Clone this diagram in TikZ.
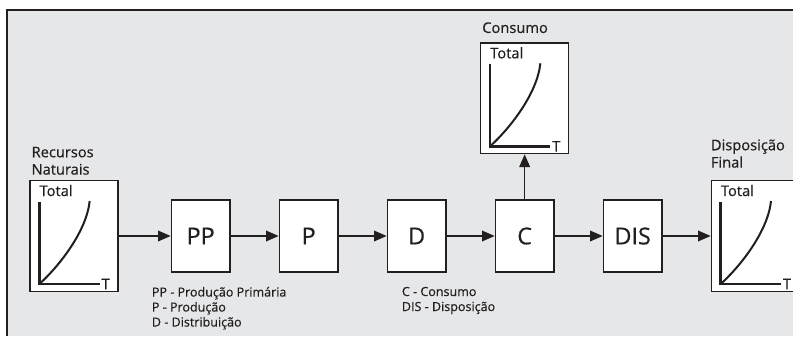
\documentclass[tikz,border=0pt]{standalone}
\usepackage{fontspec}
\setmainfont{Open Sans}[FakeBold=0.5]
\usetikzlibrary{positioning, calc, arrows.meta}
\definecolor{panel}{HTML}{E6E7E8}
\definecolor{ink}{HTML}{231F20}

\begin{document}
\begin{tikzpicture}[x=0.75pt, y=-0.75pt,
  every node/.style={text=ink, inner sep=0pt, font=\fontsize{11}{13}\selectfont},
  stage/.style={draw=ink, line width=1pt, fill=white, minimum width=44pt,
    minimum height=54pt, font=\fontsize{17.5}{20}\selectfont},
  chart/.style={draw=ink, line width=1pt, fill=white, minimum width=66pt,
    minimum height=83pt},
  flow/.style={draw=ink, line width=1pt, -{Triangle[length=9.5pt, width=8pt]}},
  axis/.style={draw=ink, line width=1.9pt},
  growth/.style={draw=ink, line width=1.5pt},
  legend/.style={align=left, anchor=north west, font=\fontsize{9.4}{11.25}\selectfont}]
\useasboundingbox (0,0) rectangle (793,336);
% panel
\fill [panel] (7,10) rectangle (793,336);
\draw [ink, line width=2.2pt] (7,336) -- (7,10) -- (793,10);

% chain of stages
\node [chart] (rec) at (74,236) {};
\node [stage, right=39pt of rec] (pp) {PP};
\node [stage, right=36pt of pp] (p) {P};
\node [stage, right=36pt of p] (d) {D};
\node [stage, right=36pt of d] (c) {C};
\node [stage, right=36pt of c] (dis) {DIS};
\node [chart, right=36pt of dis] (disp) {};
\node [chart, above=33.75pt of c] (cons) {};

% labels above the charts
\node [anchor=south west, align=left] (reclabel) at ($(rec.north west)+(2,-5)$) {Recursos\\Naturais};
\node [anchor=south west] (conslabel) at ($(cons.north west)+(2,-9)$) {Consumo};
\node [anchor=south west, align=left] (displabel) at ($(disp.north west)+(0,-12)$) {Disposição\\Final};

% curves inside the charts
\foreach \b in {rec,cons,disp} {
  \node [anchor=base west] (\b total) at ($(\b.north west)+(10,16)$) {Total};
  \draw [axis] ($(\b.north west)+(10,22)$) |- ($(\b.south east)+(-19,-8)$)
    node [right=0.5pt] (\b t) {T};
  \draw [growth] ($(\b.south west)+(10,-8)$) .. controls +(20,-18) and +(-3,30)
    .. ($(\b.north east)+(-29,21)$);
}

% connectors
\draw [flow] (rec) -- (pp);
\draw [flow] (pp) -- (p);
\draw [flow] (p) -- (d);
\draw [flow] (d) -- (c);
\draw [flow] (c) -- (dis);
\draw [flow] (dis) -- (disp);
\draw [flow] (c) -- (cons);

% legends
\node [legend] (legpp) at ($(pp.south west)+(-19,14)$) {PP - Produção Primária\\P - Produção\\D - Distribuição};
\node [legend] (legc) at ($(d.south west)+(15,14)$) {C - Consumo\\DIS - Disposição};
\end{tikzpicture}
\end{document}
